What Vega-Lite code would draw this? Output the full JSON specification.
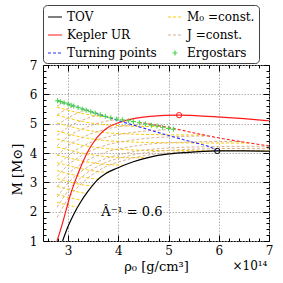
{
  "$schema": "https://vega.github.io/schema/vega-lite/v6.json",
  "autosize": "none",
  "width": 226,
  "height": 176,
  "padding": {"left": 43, "top": 65, "right": 14, "bottom": 42},
  "config": {
    "font": "DejaVu Serif",
    "view": {"stroke": "#000", "strokeWidth": 1},
    "axis": {"labelFont": "DejaVu Serif", "titleFont": "DejaVu Serif", "labelFontSize": 12, "titleFontSize": 13, "titleFontWeight": "normal", "labelColor": "#000", "titleColor": "#000", "tickColor": "#000", "domain": false}
  },
  "datasets": {
    "pts": [
      {"s":"TOV","g":"tov","x":2.89,"y":1.0},{"s":"TOV","g":"tov","x":3.0,"y":1.5},{"s":"TOV","g":"tov","x":3.12,"y":1.94},{"s":"TOV","g":"tov","x":3.25,"y":2.33},{"s":"TOV","g":"tov","x":3.39,"y":2.68},{"s":"TOV","g":"tov","x":3.57,"y":3.06},{"s":"TOV","g":"tov","x":3.75,"y":3.30},{"s":"TOV","g":"tov","x":3.97,"y":3.48},{"s":"TOV","g":"tov","x":4.3,"y":3.70},{"s":"TOV","g":"tov","x":4.63,"y":3.86},{"s":"TOV","g":"tov","x":4.97,"y":3.96},{"s":"TOV","g":"tov","x":5.3,"y":4.01},{"s":"TOV","g":"tov","x":5.96,"y":4.07},{"s":"TOV","g":"tov","x":6.5,"y":4.07},{"s":"TOV","g":"tov","x":7.0,"y":4.06},
      {"s":"Kepler UR","g":"kep","x":2.78,"y":1.0},{"s":"Kepler UR","g":"kep","x":2.87,"y":1.5},{"s":"Kepler UR","g":"kep","x":2.96,"y":2.05},{"s":"Kepler UR","g":"kep","x":3.04,"y":2.55},{"s":"Kepler UR","g":"kep","x":3.12,"y":2.95},{"s":"Kepler UR","g":"kep","x":3.21,"y":3.35},{"s":"Kepler UR","g":"kep","x":3.3,"y":3.72},{"s":"Kepler UR","g":"kep","x":3.41,"y":4.1},{"s":"Kepler UR","g":"kep","x":3.5,"y":4.35},{"s":"Kepler UR","g":"kep","x":3.64,"y":4.65},{"s":"Kepler UR","g":"kep","x":3.8,"y":4.88},{"s":"Kepler UR","g":"kep","x":4.0,"y":5.03},{"s":"Kepler UR","g":"kep","x":4.3,"y":5.17},{"s":"Kepler UR","g":"kep","x":4.63,"y":5.25},{"s":"Kepler UR","g":"kep","x":5.21,"y":5.29},{"s":"Kepler UR","g":"kep","x":5.96,"y":5.23},{"s":"Kepler UR","g":"kep","x":6.5,"y":5.17},{"s":"Kepler UR","g":"kep","x":7.0,"y":5.10},
      {"s":"Turning points","g":"tp","x":2.79,"y":5.78},{"s":"Turning points","g":"tp","x":3.3,"y":5.5},{"s":"Turning points","g":"tp","x":3.97,"y":5.12},{"s":"Turning points","g":"tp","x":4.5,"y":4.85},{"s":"Turning points","g":"tp","x":4.97,"y":4.61},{"s":"Turning points","g":"tp","x":5.5,"y":4.36},{"s":"Turning points","g":"tp","x":5.83,"y":4.2},{"s":"Turning points","g":"tp","x":5.97,"y":4.08},
      {"s":"kd","g":"kd","x":4.4,"y":5.05},{"s":"kd","g":"kd","x":5.0,"y":4.87},{"s":"kd","g":"kd","x":5.83,"y":4.57},{"s":"kd","g":"kd","x":7.0,"y":4.24},
      {"s":"cK","g":"cK","x":5.21,"y":5.29},{"s":"cT","g":"cT","x":5.97,"y":4.07},
      {"s":"M₀ =const.","g":"y1","x":2.78,"y":5.56},{"s":"M₀ =const.","g":"y1","x":3.0,"y":5.46},{"s":"M₀ =const.","g":"y1","x":3.3,"y":5.34},{"s":"M₀ =const.","g":"y1","x":3.7,"y":5.24},{"s":"M₀ =const.","g":"y1","x":3.86,"y":5.22},
      {"s":"M₀ =const.","g":"y2","x":2.78,"y":5.29},{"s":"M₀ =const.","g":"y2","x":3.0,"y":5.19},{"s":"M₀ =const.","g":"y2","x":3.3,"y":5.07},{"s":"M₀ =const.","g":"y2","x":3.7,"y":4.97},{"s":"M₀ =const.","g":"y2","x":4.2,"y":4.92},{"s":"M₀ =const.","g":"y2","x":4.83,"y":4.90},
      {"s":"M₀ =const.","g":"y3","x":2.78,"y":5.02},{"s":"M₀ =const.","g":"y3","x":3.0,"y":4.92},{"s":"M₀ =const.","g":"y3","x":3.3,"y":4.80},{"s":"M₀ =const.","g":"y3","x":3.7,"y":4.70},{"s":"M₀ =const.","g":"y3","x":4.2,"y":4.65},{"s":"M₀ =const.","g":"y3","x":5.0,"y":4.62},{"s":"M₀ =const.","g":"y3","x":5.73,"y":4.61},
      {"s":"M₀ =const.","g":"y4","x":2.78,"y":4.75},{"s":"M₀ =const.","g":"y4","x":3.0,"y":4.65},{"s":"M₀ =const.","g":"y4","x":3.3,"y":4.53},{"s":"M₀ =const.","g":"y4","x":3.7,"y":4.43},{"s":"M₀ =const.","g":"y4","x":4.2,"y":4.38},{"s":"M₀ =const.","g":"y4","x":5.0,"y":4.35},{"s":"M₀ =const.","g":"y4","x":6.0,"y":4.34},{"s":"M₀ =const.","g":"y4","x":6.66,"y":4.34},
      {"s":"M₀ =const.","g":"y5","x":2.78,"y":4.48},{"s":"M₀ =const.","g":"y5","x":3.0,"y":4.38},{"s":"M₀ =const.","g":"y5","x":3.3,"y":4.26},{"s":"M₀ =const.","g":"y5","x":3.7,"y":4.16},{"s":"M₀ =const.","g":"y5","x":4.2,"y":4.11},{"s":"M₀ =const.","g":"y5","x":5.0,"y":4.08},{"s":"M₀ =const.","g":"y5","x":6.0,"y":4.08},{"s":"M₀ =const.","g":"y5","x":7.0,"y":4.08},
      {"s":"M₀ =const.","g":"y6","x":2.78,"y":4.21},{"s":"M₀ =const.","g":"y6","x":3.0,"y":4.11},{"s":"M₀ =const.","g":"y6","x":3.3,"y":3.99},{"s":"M₀ =const.","g":"y6","x":3.7,"y":3.89},{"s":"M₀ =const.","g":"y6","x":4.2,"y":3.84},{"s":"M₀ =const.","g":"y6","x":4.6,"y":3.84},
      {"s":"M₀ =const.","g":"y7","x":2.78,"y":3.94},{"s":"M₀ =const.","g":"y7","x":3.0,"y":3.84},{"s":"M₀ =const.","g":"y7","x":3.3,"y":3.72},{"s":"M₀ =const.","g":"y7","x":3.7,"y":3.62},{"s":"M₀ =const.","g":"y7","x":4.13,"y":3.58},
      {"s":"M₀ =const.","g":"y8","x":2.78,"y":3.67},{"s":"M₀ =const.","g":"y8","x":3.0,"y":3.57},{"s":"M₀ =const.","g":"y8","x":3.3,"y":3.45},{"s":"M₀ =const.","g":"y8","x":3.7,"y":3.35},{"s":"M₀ =const.","g":"y8","x":3.8,"y":3.34},
      {"s":"M₀ =const.","g":"y9","x":2.78,"y":3.40},{"s":"M₀ =const.","g":"y9","x":3.0,"y":3.30},{"s":"M₀ =const.","g":"y9","x":3.3,"y":3.18},{"s":"M₀ =const.","g":"y9","x":3.62,"y":3.10},
      {"s":"M₀ =const.","g":"y10","x":2.78,"y":3.13},{"s":"M₀ =const.","g":"y10","x":3.0,"y":3.03},{"s":"M₀ =const.","g":"y10","x":3.3,"y":2.91},{"s":"M₀ =const.","g":"y10","x":3.47,"y":2.88},
      {"s":"M₀ =const.","g":"y11","x":2.78,"y":2.86},{"s":"M₀ =const.","g":"y11","x":3.0,"y":2.76},{"s":"M₀ =const.","g":"y11","x":3.3,"y":2.64},{"s":"M₀ =const.","g":"y11","x":3.36,"y":2.63},
      {"s":"M₀ =const.","g":"y12","x":2.78,"y":2.59},{"s":"M₀ =const.","g":"y12","x":3.0,"y":2.49},{"s":"M₀ =const.","g":"y12","x":3.26,"y":2.39},
      {"s":"M₀ =const.","g":"y13","x":2.78,"y":2.32},{"s":"M₀ =const.","g":"y13","x":3.0,"y":2.22},{"s":"M₀ =const.","g":"y13","x":3.18,"y":2.16},
      {"s":"J =const.","g":"j0","x":2.78,"y":1.80},{"s":"J =const.","g":"j0","x":3.0,"y":2.44},{"s":"J =const.","g":"j0","x":3.3,"y":3.01},{"s":"J =const.","g":"j0","x":3.7,"y":3.49},{"s":"J =const.","g":"j0","x":4.2,"y":3.79},{"s":"J =const.","g":"j0","x":5.0,"y":4.01},{"s":"J =const.","g":"j0","x":6.0,"y":4.08},{"s":"J =const.","g":"j0","x":7.0,"y":4.09},
      {"s":"J =const.","g":"j1","x":2.78,"y":2.15},{"s":"J =const.","g":"j1","x":3.0,"y":2.71},{"s":"J =const.","g":"j1","x":3.3,"y":3.22},{"s":"J =const.","g":"j1","x":3.7,"y":3.64},{"s":"J =const.","g":"j1","x":4.2,"y":3.90},{"s":"J =const.","g":"j1","x":5.0,"y":4.09},{"s":"J =const.","g":"j1","x":6.0,"y":4.15},{"s":"J =const.","g":"j1","x":7.0,"y":4.16},
      {"s":"J =const.","g":"j2","x":2.78,"y":2.50},{"s":"J =const.","g":"j2","x":3.0,"y":2.98},{"s":"J =const.","g":"j2","x":3.3,"y":3.42},{"s":"J =const.","g":"j2","x":3.7,"y":3.78},{"s":"J =const.","g":"j2","x":4.2,"y":4.01},{"s":"J =const.","g":"j2","x":5.0,"y":4.17},{"s":"J =const.","g":"j2","x":6.0,"y":4.22},{"s":"J =const.","g":"j2","x":7.0,"y":4.23},
      {"s":"J =const.","g":"j3","x":2.78,"y":2.85},{"s":"J =const.","g":"j3","x":3.0,"y":3.28},{"s":"J =const.","g":"j3","x":3.3,"y":3.67},{"s":"J =const.","g":"j3","x":3.7,"y":4.00},{"s":"J =const.","g":"j3","x":4.2,"y":4.20},{"s":"J =const.","g":"j3","x":5.0,"y":4.35},{"s":"J =const.","g":"j3","x":6.0,"y":4.39},{"s":"J =const.","g":"j3","x":6.47,"y":4.39},
      {"s":"J =const.","g":"j4","x":2.78,"y":3.20},{"s":"J =const.","g":"j4","x":3.0,"y":3.59},{"s":"J =const.","g":"j4","x":3.3,"y":3.94},{"s":"J =const.","g":"j4","x":3.7,"y":4.24},{"s":"J =const.","g":"j4","x":4.2,"y":4.42},{"s":"J =const.","g":"j4","x":5.0,"y":4.55},{"s":"J =const.","g":"j4","x":5.83,"y":4.58},
      {"s":"J =const.","g":"j5","x":2.78,"y":3.55},{"s":"J =const.","g":"j5","x":3.0,"y":3.91},{"s":"J =const.","g":"j5","x":3.3,"y":4.24},{"s":"J =const.","g":"j5","x":3.7,"y":4.51},{"s":"J =const.","g":"j5","x":4.2,"y":4.68},{"s":"J =const.","g":"j5","x":5.0,"y":4.80},{"s":"J =const.","g":"j5","x":5.11,"y":4.81},
      {"s":"J =const.","g":"j6","x":2.78,"y":3.90},{"s":"J =const.","g":"j6","x":3.0,"y":4.24},{"s":"J =const.","g":"j6","x":3.3,"y":4.54},{"s":"J =const.","g":"j6","x":3.7,"y":4.79},{"s":"J =const.","g":"j6","x":4.2,"y":4.94},{"s":"J =const.","g":"j6","x":4.54,"y":5.0},
      {"s":"J =const.","g":"j7","x":2.78,"y":4.25},{"s":"J =const.","g":"j7","x":3.0,"y":4.56},{"s":"J =const.","g":"j7","x":3.3,"y":4.83},{"s":"J =const.","g":"j7","x":3.7,"y":5.06},{"s":"J =const.","g":"j7","x":4.04,"y":5.16},
      {"s":"J =const.","g":"j8","x":2.78,"y":4.60},{"s":"J =const.","g":"j8","x":3.0,"y":4.88},{"s":"J =const.","g":"j8","x":3.3,"y":5.13},{"s":"J =const.","g":"j8","x":3.64,"y":5.31},
      {"s":"J =const.","g":"j9","x":2.78,"y":4.95},{"s":"J =const.","g":"j9","x":3.0,"y":5.20},{"s":"J =const.","g":"j9","x":3.3,"y":5.43},{"s":"J =const.","g":"j9","x":3.36,"y":5.46},
      {"s":"J =const.","g":"j10","x":2.78,"y":5.30},{"s":"J =const.","g":"j10","x":3.0,"y":5.52},{"s":"J =const.","g":"j10","x":3.11,"y":5.60},
      {"s":"J =const.","g":"j11","x":2.78,"y":5.60},{"s":"J =const.","g":"j11","x":2.90,"y":5.70},
      {"s":"Ergostars","g":"e","x":2.79,"y":5.78},{"s":"Ergostars","g":"e","x":2.85,"y":5.75},{"s":"Ergostars","g":"e","x":2.92,"y":5.71},{"s":"Ergostars","g":"e","x":3.0,"y":5.67},{"s":"Ergostars","g":"e","x":3.06,"y":5.63},{"s":"Ergostars","g":"e","x":3.11,"y":5.60},{"s":"Ergostars","g":"e","x":3.2,"y":5.55},{"s":"Ergostars","g":"e","x":3.28,"y":5.50},{"s":"Ergostars","g":"e","x":3.36,"y":5.46},{"s":"Ergostars","g":"e","x":3.45,"y":5.41},{"s":"Ergostars","g":"e","x":3.54,"y":5.36},{"s":"Ergostars","g":"e","x":3.64,"y":5.30},{"s":"Ergostars","g":"e","x":3.74,"y":5.25},{"s":"Ergostars","g":"e","x":3.85,"y":5.20},{"s":"Ergostars","g":"e","x":3.97,"y":5.16},{"s":"Ergostars","g":"e","x":4.08,"y":5.13},{"s":"Ergostars","g":"e","x":4.2,"y":5.10},{"s":"Ergostars","g":"e","x":4.3,"y":5.07},{"s":"Ergostars","g":"e","x":4.42,"y":5.03},{"s":"Ergostars","g":"e","x":4.54,"y":4.99},{"s":"Ergostars","g":"e","x":4.66,"y":4.95},{"s":"Ergostars","g":"e","x":4.77,"y":4.92},{"s":"Ergostars","g":"e","x":4.88,"y":4.88},{"s":"Ergostars","g":"e","x":5.0,"y":4.84},{"s":"Ergostars","g":"e","x":5.1,"y":4.81}
    ]
  },
  "layer": [
    {
      "data": {"name": "pts"},
      "transform": [{"filter": {"field": "s", "oneOf": ["J =const.", "M₀ =const."]}}],
      "mark": {"type": "line", "strokeWidth": 1, "strokeDash": [3, 2], "interpolate": "monotone", "clip": true},
      "encoding": {
        "x": {"field": "x", "type": "quantitative", "scale": {"domain": [2.5, 7], "nice": false, "zero": false},
          "axis": {"orient": "bottom", "values": [2.6,2.8,3,3.2,3.4,3.6,3.8,4,4.2,4.4,4.6,4.8,5,5.2,5.4,5.6,5.8,6,6.2,6.4,6.6,6.8,7],
            "labelExpr": "abs(datum.value - round(datum.value)) < 0.01 ? format(datum.value, 'd') : ''",
            "tickSize": {"condition": {"test": "abs(datum.value - round(datum.value)) < 0.01", "value": -6}, "value": -3},
            "labelPadding": 10, "labelFlush": false, "labelOverlap": false,
            "grid": true, "gridColor": "#999", "gridDash": [1.5, 1.5], "gridWidth": 0.8,
            "gridOpacity": {"condition": {"test": "abs(datum.value - round(datum.value)) < 0.01", "value": 1}, "value": 0},
            "title": "ρ₀  [g/cm³]", "titlePadding": 1}},
        "y": {"field": "y", "type": "quantitative", "scale": {"domain": [1, 7], "nice": false, "zero": false},
          "axis": {"orient": "left", "values": [1,1.2,1.4,1.6,1.8,2,2.2,2.4,2.6,2.8,3,3.2,3.4,3.6,3.8,4,4.2,4.4,4.6,4.8,5,5.2,5.4,5.6,5.8,6,6.2,6.4,6.6,6.8,7],
            "labelExpr": "abs(datum.value - round(datum.value)) < 0.01 ? format(datum.value, 'd') : ''",
            "tickSize": {"condition": {"test": "abs(datum.value - round(datum.value)) < 0.01", "value": -6}, "value": -3},
            "labelPadding": 12, "labelFlush": false, "labelOverlap": false,
            "grid": true, "gridColor": "#999", "gridDash": [1.5, 1.5], "gridWidth": 0.8,
            "gridOpacity": {"condition": {"test": "abs(datum.value - round(datum.value)) < 0.01", "value": 1}, "value": 0},
            "title": "M  [M⊙]", "titlePadding": 5, "titleY": 104}},
        "color": {"field": "s", "type": "nominal",
          "scale": {"domain": ["TOV", "Kepler UR", "Turning points", "M₀ =const.", "J =const.", "Ergostars"], "range": ["#000000", "#ff1a1a", "#2b2bff", "#ffcc00", "#d9b38c", "#4cd44c"]},
          "legend": {"orient": "none", "legendX": 0, "legendY": -60, "columns": 2, "title": null,
            "labelFont": "DejaVu Serif", "labelFontSize": 12, "labelColor": "#000", "labelOffset": 4,
            "symbolType": "stroke", "symbolSize": 196, "symbolStrokeWidth": 1.2,
            "strokeColor": "#444", "fillColor": "#fff", "cornerRadius": 4, "padding": 4, "rowPadding": 4, "columnPadding": 8,
            "encode": {"symbols": {"update": {
              "shape": {"signal": "datum.value === 'Ergostars' ? 'M-1,0H1M0,-1V1' : 'stroke'"},
              "size": {"signal": "datum.value === 'Ergostars' ? 25 : 196"},
              "strokeDash": {"signal": "(datum.value === 'TOV' || datum.value === 'Kepler UR' || datum.value === 'Ergostars') ? [1, 0] : [3, 2]"},
              "strokeWidth": {"value": 1.2}}}}}},
        "detail": {"field": "g"}
      }
    },
    {
      "data": {"name": "pts"},
      "transform": [{"filter": {"field": "s", "oneOf": ["TOV", "Kepler UR"]}}],
      "mark": {"type": "line", "strokeWidth": 1.2, "interpolate": "monotone", "clip": true},
      "encoding": {
        "x": {"field": "x", "type": "quantitative", "scale": {"domain": [2.5, 7], "nice": false, "zero": false},
          "axis": {"orient": "top", "values": [2.6,2.8,3,3.2,3.4,3.6,3.8,4,4.2,4.4,4.6,4.8,5,5.2,5.4,5.6,5.8,6,6.2,6.4,6.6,6.8,7],
            "labels": false, "grid": false, "title": null,
            "tickSize": {"condition": {"test": "abs(datum.value - round(datum.value)) < 0.01", "value": -6}, "value": -3}}},
        "y": {"field": "y", "type": "quantitative", "scale": {"domain": [1, 7], "nice": false, "zero": false},
          "axis": {"orient": "right", "values": [1,1.2,1.4,1.6,1.8,2,2.2,2.4,2.6,2.8,3,3.2,3.4,3.6,3.8,4,4.2,4.4,4.6,4.8,5,5.2,5.4,5.6,5.8,6,6.2,6.4,6.6,6.8,7],
            "labels": false, "grid": false, "title": null,
            "tickSize": {"condition": {"test": "abs(datum.value - round(datum.value)) < 0.01", "value": -6}, "value": -3}}},
        "color": {"field": "s", "type": "nominal"},
        "detail": {"field": "g"}
      }
    },
    {
      "data": {"name": "pts"},
      "transform": [{"filter": {"field": "s", "equal": "Turning points"}}],
      "mark": {"type": "line", "strokeWidth": 1.1, "strokeDash": [3, 2], "interpolate": "monotone", "clip": true},
      "encoding": {
        "x": {"field": "x", "type": "quantitative", "axis": null},
        "y": {"field": "y", "type": "quantitative", "axis": null},
        "color": {"field": "s", "type": "nominal"}
      }
    },
    {
      "data": {"name": "pts"},
      "transform": [{"filter": {"field": "s", "equal": "kd"}}],
      "mark": {"type": "line", "strokeWidth": 1.1, "strokeDash": [3, 2], "color": "#ff1a1a", "interpolate": "monotone", "clip": true},
      "encoding": {
        "x": {"field": "x", "type": "quantitative", "axis": null},
        "y": {"field": "y", "type": "quantitative", "axis": null}
      }
    },
    {
      "data": {"name": "pts"},
      "transform": [{"filter": {"field": "s", "equal": "Ergostars"}}],
      "mark": {"type": "point", "shape": "M-1,0H1M0,-1V1", "filled": false, "size": 25, "strokeWidth": 1.1, "opacity": 1},
      "encoding": {
        "x": {"field": "x", "type": "quantitative", "axis": null},
        "y": {"field": "y", "type": "quantitative", "axis": null},
        "color": {"field": "s", "type": "nominal"}
      }
    },
    {
      "data": {"name": "pts"},
      "transform": [{"filter": {"field": "s", "equal": "cK"}}],
      "mark": {"type": "point", "shape": "circle", "filled": false, "size": 28, "strokeWidth": 1, "color": "#ff1a1a", "opacity": 1},
      "encoding": {
        "x": {"field": "x", "type": "quantitative", "axis": null},
        "y": {"field": "y", "type": "quantitative", "axis": null}
      }
    },
    {
      "data": {"name": "pts"},
      "transform": [{"filter": {"field": "s", "equal": "cT"}}],
      "mark": {"type": "point", "shape": "circle", "filled": false, "size": 28, "strokeWidth": 1, "color": "#000", "opacity": 1},
      "encoding": {
        "x": {"field": "x", "type": "quantitative", "axis": null},
        "y": {"field": "y", "type": "quantitative", "axis": null}
      }
    },
    {
      "data": {"values": [{"x": 4.27, "y": 2.0, "t": "Â⁻¹ = 0.6"}]},
      "mark": {"type": "text", "font": "DejaVu Serif", "fontSize": 13, "color": "#000", "align": "center", "baseline": "middle"},
      "encoding": {
        "x": {"field": "x", "type": "quantitative", "axis": null},
        "y": {"field": "y", "type": "quantitative", "axis": null},
        "text": {"field": "t"}
      }
    },
    {
      "data": {"values": [{"x": 6.62, "y": 0.14, "t": "×10¹⁴"}]},
      "mark": {"type": "text", "font": "DejaVu Serif", "fontSize": 12, "color": "#000", "align": "center", "baseline": "middle"},
      "encoding": {
        "x": {"field": "x", "type": "quantitative", "axis": null},
        "y": {"field": "y", "type": "quantitative", "axis": null},
        "text": {"field": "t"}
      }
    }
  ],
  "resolve": {"axis": {"x": "independent", "y": "independent"}}
}
